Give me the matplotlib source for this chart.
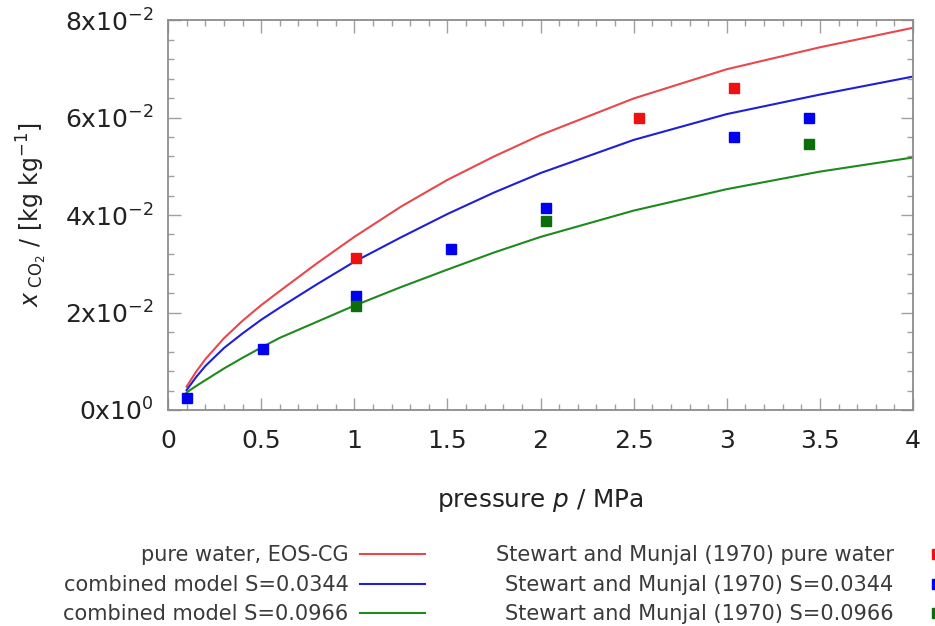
import matplotlib
matplotlib.use("Agg")
import matplotlib.pyplot as plt
from matplotlib.ticker import MultipleLocator

# CO2 solubility in water / brine vs pressure (model curves)
curve_p = [0.1, 0.15, 0.2, 0.3, 0.4, 0.5, 0.6, 0.8, 1.0, 1.25, 1.5, 1.75, 2.0, 2.5, 3.0, 3.5, 4.0]
curve_pure = [0.0048, 0.0078, 0.0104, 0.0147, 0.0183, 0.0215, 0.0244, 0.0301, 0.0355,
              0.0417, 0.0472, 0.0520, 0.0564, 0.0639, 0.0699, 0.0744, 0.0784]
curve_s0344 = [0.0041, 0.0067, 0.0090, 0.0127, 0.0157, 0.0185, 0.0210, 0.0258, 0.0304,
               0.0354, 0.0402, 0.0446, 0.0486, 0.0554, 0.0607, 0.0647, 0.0684]
curve_s0966 = [0.0036, 0.0049, 0.0061, 0.0085, 0.0107, 0.0128, 0.0148, 0.0181, 0.0214,
               0.0252, 0.0288, 0.0323, 0.0355, 0.0409, 0.0453, 0.0489, 0.0518]

# Stewart and Munjal (1970) measurements
exp_pure_p = [1.01, 2.53, 3.04]
exp_pure_x = [0.0312, 0.0600, 0.0660]
exp_s0344_p = [0.10, 0.51, 1.01, 1.52, 2.03, 3.04, 3.44]
exp_s0344_x = [0.0025, 0.0125, 0.0234, 0.0330, 0.0414, 0.0559, 0.0600]
exp_s0966_p = [1.01, 2.03, 3.44]
exp_s0966_x = [0.0213, 0.0388, 0.0545]

x_ticks = [0, 0.5, 1, 1.5, 2, 2.5, 3, 3.5, 4]
x_tick_labels = ["0", "0.5", "1", "1.5", "2", "2.5", "3", "3.5", "4"]
y_ticks = [0, 0.02, 0.04, 0.06, 0.08]
y_tick_labels = [r"$\mathregular{0x10^{0}}$", r"$\mathregular{2x10^{-2}}$",
                 r"$\mathregular{4x10^{-2}}$", r"$\mathregular{6x10^{-2}}$",
                 r"$\mathregular{8x10^{-2}}$"]

line_labels = ["pure water, EOS-CG", "combined model S=0.0344", "combined model S=0.0966"]
point_labels = ["Stewart and Munjal (1970) pure water",
                "Stewart and Munjal (1970) S=0.0344",
                "Stewart and Munjal (1970) S=0.0966"]

plt.rcParams["font.family"] = ["DejaVu Sans"]
plt.rcParams["mathtext.fontset"] = "dejavusans"

fig = plt.figure(figsize=(9.35, 6.26), dpi=100)
ax = fig.add_axes([168 / 935, 1 - 410 / 626, (913 - 168) / 935, (410 - 20) / 626])

line_colors = ["#e8474c", "#1f1fd6", "#1e8a1e"]
pt_colors = ["#ee1111", "#0000ee", "#0b6e0b"]

handles_l = []
for ys, c, lab in zip([curve_pure, curve_s0344, curve_s0966], line_colors, line_labels):
    h, = ax.plot(curve_p, ys, color=c, lw=1.5, label=lab, solid_joinstyle="round")
    handles_l.append(h)

handles_p = []
for xs, ys, c, lab in zip([exp_pure_p, exp_s0344_p, exp_s0966_p],
                          [exp_pure_x, exp_s0344_x, exp_s0966_x], pt_colors, point_labels):
    h, = ax.plot(xs, ys, ls="none", marker="s", ms=6.5, color=c, mec=c, label=lab, zorder=3)
    handles_p.append(h)

ax.set_xlim(0, 4)
ax.set_ylim(0, 0.08)
ax.set_xticks(x_ticks)
ax.set_xticklabels(x_tick_labels)
ax.set_yticks(y_ticks)
ax.set_yticklabels(y_tick_labels)
ax.xaxis.set_minor_locator(MultipleLocator(0.1))
ax.yaxis.set_minor_locator(MultipleLocator(0.004))

spine_col = "#8c8c8c"
for s in ax.spines.values():
    s.set_color(spine_col)
    s.set_linewidth(1.3)
ax.tick_params(which="both", direction="in", top=True, right=True, color="#a0a0a0",
               labelcolor="#222222", labelsize=18)
ax.tick_params(which="major", length=9, width=1.0)
ax.tick_params(which="minor", length=4.5, width=1.0)
ax.tick_params(axis="x", pad=14)
ax.tick_params(axis="y", pad=10)

ax.set_xlabel(r"pressure $\mathit{p}$ / MPa", fontsize=17.8, color="#222222", labelpad=24)
ax.set_ylabel(r"$\mathit{x}_{\mathregular{\ CO_2}}$ / [kg kg$^{\mathregular{-1}}$]",
              fontsize=17, color="#222222", labelpad=12)

# legend: text on the left, sample on the right, two columns
order_h = handles_l + handles_p
leg = fig.legend(handles=order_h, labels=[h.get_label() for h in order_h], ncol=2,
                 markerfirst=False, frameon=False, fontsize=15, loc="upper left",
                 bbox_to_anchor=(53 / 935, 1 - 535 / 626), borderpad=0,
                 handlelength=3.1, handletextpad=0.55, columnspacing=3.4, labelspacing=0.45)
for t in leg.get_texts():
    t.set_color("#3a3a3a")

fig.savefig("out.png", dpi=100)
